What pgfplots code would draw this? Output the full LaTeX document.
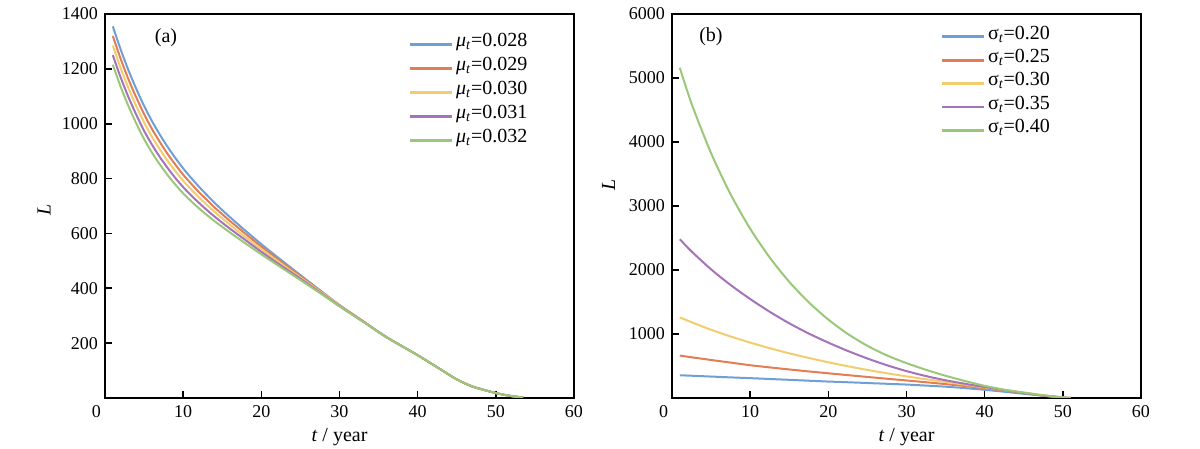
\documentclass[border=0pt]{standalone}
\usepackage{fontspec}
\setmainfont{Liberation Serif}
\usepackage{pgfplots}
\pgfplotsset{compat=1.18}
\definecolor{c1}{RGB}{110,160,215}
\definecolor{c2}{RGB}{226,125,85}
\definecolor{c3}{RGB}{242,205,110}
\definecolor{c4}{RGB}{165,115,185}
\definecolor{c5}{RGB}{155,200,120}
\pgfplotsset{
  panel/.style={
    scale only axis, width=234.5pt, height=192pt,
    xmin=0, xmax=60, xtick={0,10,...,60}, ymin=0,
    xticklabels={{\makebox[0pt][r]{0\hspace{2pt}}},10,20,30,40,50,60},
    tick align=inside, xtick pos=bottom, ytick pos=left,
    major tick length=3.5pt,
    axis line style={line width=0.8pt},
    every tick/.style={black, line width=0.8pt},
    ticklabel style={font=\fontsize{9}{10}\selectfont},
    /pgf/number format/assume math mode=true,
    /pgf/number format/1000 sep={},
    scaled ticks=false,
    xlabel={\textit{t} / year},
    xlabel style={font=\fontsize{10}{12}\selectfont, at={(axis description cs:0.5,-0.1016)}, anchor=center},
    ylabel={\textit{L}},
    legend cell align=left,
    legend style={draw=none, fill=none, font=\fontsize{10}{12}\selectfont,
      anchor=north west, inner sep=0pt, row sep=0pt,
      nodes={inner sep=0pt, text height=7pt, text depth=5pt},
      /tikz/every odd column/.style={column sep=1.5pt}},
    legend image code/.code={\draw[##1, line width=1.4pt] (0pt,0pt) -- (21pt,0pt);},
    every axis plot/.append style={line width=1pt, smooth, tension=0.45},
  }
}
\begin{document}
\begin{tikzpicture}[x=1pt,y=1pt]
\path[use as bounding box] (0,0) rectangle (600,224.5);
% ---------- panel (a) ----------
\begin{axis}[panel, at={(52.5pt,25.5pt)}, anchor=south west,
  ymax=1400, ytick={200,400,...,1400},
  ylabel style={at={(axis description cs:-0.13,0.49)}, anchor=center, font=\fontsize{10}{12}\selectfont},
  legend style={at={(axis description cs:0.646,0.952)}}]
\addplot[c1] table {
1 1355
2 1271
3 1195
4 1127
5 1065
6 1010
7 961
8 916
9 875
10 837
11 803
12 771
13 741
14 712
15 685
16 659
18 609
20 561
22 515
25 448
28 382
30 339
33 280
36 222
40 156
43 103
45 68
47 42
50 18
52 7
53.5 2
};
\addlegendentry{{\itshape μ}\textsubscript{\itshape t}=0.028}
\addplot[c2] table {
1 1320
2 1237
3 1162
4 1096
5 1035
6 981
7 934
8 890
9 851
10 814
11 782
12 751
13 723
14 695
15 670
16 645
18 598
20 552
22 508
25 444
28 380
30 338
33 280
36 222
40 156
43 103
45 68
47 42
50 18
52 7
53.5 2
};
\addlegendentry{{\itshape μ}\textsubscript{\itshape t}=0.029}
\addplot[c3] table {
1 1285
2 1203
3 1130
4 1064
5 1005
6 953
7 907
8 865
9 827
10 792
11 761
12 732
13 705
14 679
15 655
16 631
18 586
20 543
22 501
25 439
28 378
30 337
33 279
36 222
40 156
43 103
45 68
47 42
50 18
52 7
53.5 2
};
\addlegendentry{{\itshape μ}\textsubscript{\itshape t}=0.030}
\addplot[c4] table {
1 1250
2 1169
3 1097
4 1033
5 974
6 924
7 879
8 839
9 802
10 769
11 739
12 712
13 686
14 662
15 639
16 617
18 575
20 533
22 493
25 435
28 375
30 335
33 279
36 222
40 156
43 103
45 68
47 42
50 18
52 7
53.5 2
};
\addlegendentry{{\itshape μ}\textsubscript{\itshape t}=0.031}
\addplot[c5] table {
1 1215
2 1135
3 1064
4 1001
5 944
6 895
7 852
8 813
9 778
10 746
11 718
12 692
13 668
14 645
15 624
16 603
18 563
20 524
22 486
25 430
28 373
30 334
33 278
36 222
40 156
43 103
45 68
47 42
50 18
52 7
53.5 2
};
\addlegendentry{{\itshape μ}\textsubscript{\itshape t}=0.032}
\node[font=\fontsize{10}{12}\selectfont] at (rel axis cs:0.13,0.9375) {(a)};
\end{axis}
% ---------- panel (b) ----------
\begin{axis}[panel, at={(336pt,25.5pt)}, anchor=south west,
  ymax=6000, ytick={1000,2000,...,6000},
  ylabel style={at={(axis description cs:-0.135,0.555)}, anchor=center, font=\fontsize{10}{12}\selectfont},
  legend style={at={(axis description cs:0.571,0.972)}, nodes={text depth=4.7pt}}]
\addplot[c1] table {
1 355
2.5 348
5 335
7.5 322
10 310
12.5 297
15 284
17.5 270
20 257
22.5 246
25 234
27.5 222
30 210
32.5 194
35 177
37.5 154
40 128
42.5 98
45 66
47.5 38
50 10
51 0
};
\addlegendentry{σ\textsubscript{\itshape t}=0.20}
\addplot[c2] table {
1 663
2.5 636
5 594
7.5 553
10 512
12.5 478
15 446
17.5 415
20 386
22.5 357
25 329
27.5 301
30 274
32.5 246
35 217
37.5 186
40 152
42.5 115
45 76
47.5 37
50 7
51 0
};
\addlegendentry{σ\textsubscript{\itshape t}=0.25}
\addplot[c3] table {
1 1260
2.5 1184
5 1066
7.5 961
10 866
12.5 778
15 698
17.5 626
20 558
22.5 496
25 438
27.5 386
30 338
32.5 293
35 250
37.5 208
40 165
42.5 123
45 83
47.5 43
50 10
51 0
};
\addlegendentry{σ\textsubscript{\itshape t}=0.30}
\addplot[c4] table {
1 2481
2.5 2290
5 2010
7.5 1765
10 1547
12.5 1347
15 1167
17.5 1007
20 865
22.5 735
25 617
27.5 512
30 420
32.5 342
35 277
37.5 222
40 172
42.5 125
45 78
47.5 35
50 7
51 0
};
\addlegendentry{σ\textsubscript{\itshape t}=0.35}
\addplot[c5] table {
1 5160
2.5 4600
5 3825
7.5 3182
10 2645
12.5 2195
15 1815
17.5 1495
20 1225
22.5 1000
25 815
27.5 665
30 545
32.5 440
35 347
37.5 265
40 190
42.5 130
45 85
47.5 42
50 8
51 0
};
\addlegendentry{σ\textsubscript{\itshape t}=0.40}
\node[font=\fontsize{10}{12}\selectfont] at (rel axis cs:0.083,0.94) {(b)};
\end{axis}
\end{tikzpicture}
\end{document}
